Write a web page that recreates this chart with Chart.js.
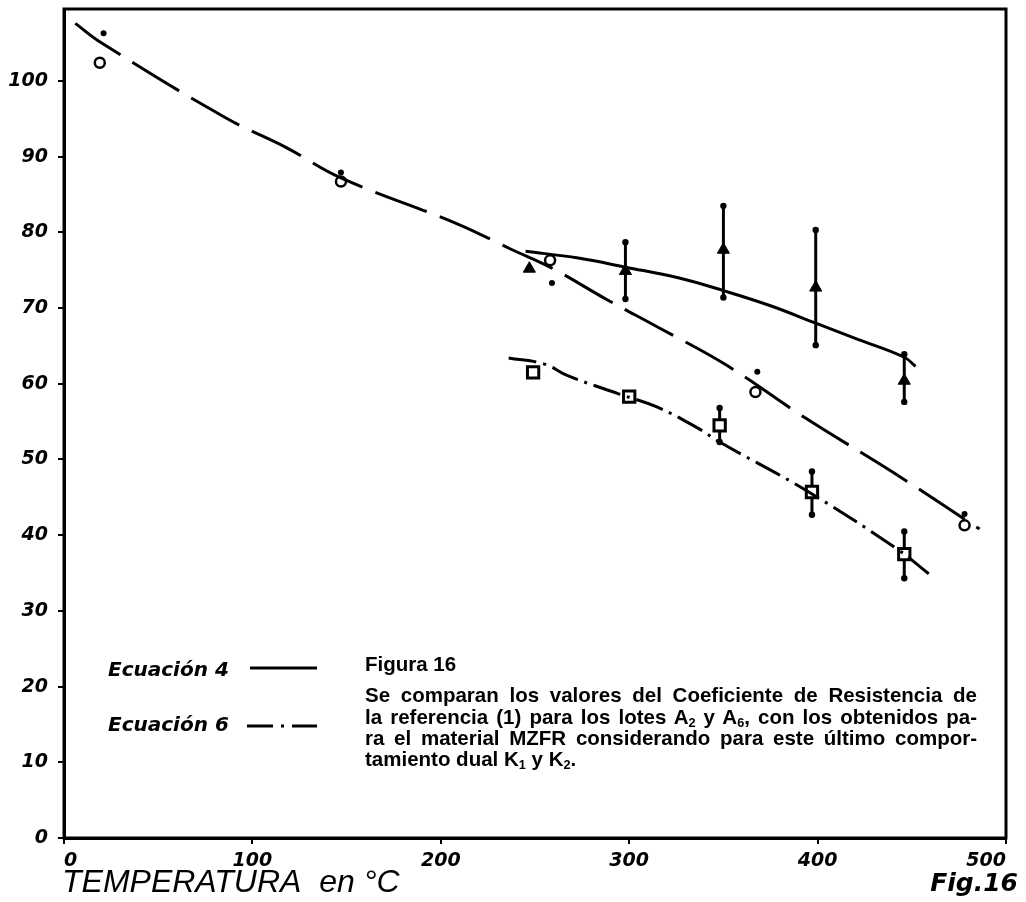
<!DOCTYPE html>
<html>
<head>
<meta charset="utf-8">
<script src="https://cdn.jsdelivr.net/npm/chart.js@4.4.0/dist/chart.umd.min.js"></script>
<style>
body { margin: 0; background: #fff; }
#wrap { position: relative; width: 1026px; height: 902px; }
#fig16 { position: absolute; left: 0; top: 0; }
.cap { position: absolute; left: 365px; width: 612px; font-family: 'Liberation Sans', Arial, sans-serif; font-weight: bold; font-size: 20.5px; letter-spacing: 0; line-height: 21px; color: #000; white-space: nowrap; }
.just { text-align: justify; text-align-last: justify; }
sub { font-size: 0.62em; line-height: 0; vertical-align: -0.25em; }
</style>
</head>
<body>
<div id="wrap">
  <canvas id="fig16" width="1026" height="902"></canvas>
  <div class="cap" style="top:653px">Figura 16</div>
  <div class="cap just" style="top:684px">Se comparan los valores del Coeficiente de Resistencia de</div>
  <div class="cap just" style="top:706px">la referencia (1) para los lotes A<sub>2</sub> y A<sub>6</sub>, con los obtenidos pa-</div>
  <div class="cap just" style="top:727px">ra el material MZFR considerando para este último compor-</div>
  <div class="cap" style="top:748px">tamiento dual K<sub>1</sub> y K<sub>2</sub>.</div>
</div>
<script>
// curva Ecuación 4 (continua)
var tempEc4 = [245, 273, 298, 326, 350, 375, 399, 421, 446, 452];
var valEc4 = [77.5, 76.6, 75.4, 74.0, 72.3, 70.3, 68.0, 65.9, 63.5, 62.3];

// curva de referencia (trazos largos)
var tempRef = [6, 20, 86, 118, 147, 209, 237, 258, 289, 315, 352, 394, 440, 486];
var valRef = [107.6, 105.0, 95.1, 91.2, 87.2, 81.1, 77.8, 75.4, 71.0, 67.5, 62.4, 55.4, 48.3, 40.8];

// curva Ecuación 6 (trazo y punto)
var tempEc6 = [236, 255, 267, 294, 315, 336, 348, 394, 442, 459];
var valEc6 = [63.4, 62.6, 61.1, 58.7, 56.9, 54.2, 52.3, 45.9, 38.2, 34.9];

// puntos experimentales
var tempTri = [247, 298, 350, 399, 446];
var valTri = [75.2, 74.9, 77.7, 72.7, 60.4];
var triLow = [null, 71.2, 71.4, 65.1, 57.6];
var triHigh = [null, 78.7, 83.5, 80.3, 63.9];

var tempSq = [249, 300, 348, 397, 446];
var valSq = [61.5, 58.3, 54.5, 45.7, 37.5];
var sqLow = [null, null, 52.3, 42.7, 34.3];
var sqHigh = [null, null, 56.8, 48.4, 40.5];

var tempCirc = [19, 147, 258, 367, 478];
var valCirc = [102.4, 86.7, 76.3, 58.9, 41.3];

var tempDot = [21, 147, 259, 368, 478];
var valDot = [106.3, 87.9, 73.3, 61.6, 42.8];

var xTicks = [0, 100, 200, 300, 400, 500];
var yTicks = [0, 10, 20, 30, 40, 50, 60, 70, 80, 90, 100];

function pts(xs, ys) {
    return xs.map(function (x, i) { return { x: x, y: ys[i] }; });
}

var tickFont = { family: 'DejaVu Sans', style: 'italic', weight: 'bold', size: 19 };

var errorBars = {
    id: 'errorBars',
    beforeDatasetsDraw: function (chart) {
        var ctx = chart.ctx;
        var xs = chart.scales.x, ys = chart.scales.y;
        function bars(temps, lows, highs) {
            temps.forEach(function (t, i) {
                if (lows[i] == null) return;
                var px = xs.getPixelForValue(t);
                var y1 = ys.getPixelForValue(lows[i]);
                var y2 = ys.getPixelForValue(highs[i]);
                ctx.save();
                ctx.strokeStyle = '#000';
                ctx.fillStyle = '#000';
                ctx.lineWidth = 3;
                ctx.beginPath();
                ctx.moveTo(px, y1);
                ctx.lineTo(px, y2);
                ctx.stroke();
                [y1, y2].forEach(function (py) {
                    ctx.beginPath();
                    ctx.arc(px, py, 3.2, 0, Math.PI * 2);
                    ctx.fill();
                });
                ctx.restore();
            });
        }
        bars(tempTri, triLow, triHigh);
        bars(tempSq, sqLow, sqHigh);
    },
    afterDraw: function (chart) {
        var ctx = chart.ctx;
        var a = chart.chartArea;
        ctx.save();
        // marco
        ctx.strokeStyle = '#000';
        ctx.lineWidth = 3;
        ctx.strokeRect(a.left, a.top, a.right - a.left, a.bottom - a.top);

        // leyenda
        ctx.fillStyle = '#000';
        ctx.font = 'italic bold 20px "DejaVu Sans"';
        ctx.textBaseline = 'alphabetic';
        ctx.fillText('Ecuación 4', 108, 676);
        ctx.fillText('Ecuación 6', 108, 731);
        ctx.beginPath();
        ctx.moveTo(250, 668);
        ctx.lineTo(317, 668);
        ctx.stroke();
        ctx.setLineDash([26, 8, 3, 8]);
        ctx.beginPath();
        ctx.moveTo(247, 726);
        ctx.lineTo(317, 726);
        ctx.stroke();
        ctx.setLineDash([]);

        // títulos
        ctx.font = 'italic 32px "Liberation Sans"';
        ctx.fillText('TEMPERATURA  en °C', 62, 892);
        ctx.font = 'italic bold 25px "DejaVu Sans"';
        ctx.textAlign = 'right';
        ctx.fillText('Fig.16', 1018, 891);
        ctx.restore();
    }
};

var ctx = document.getElementById('fig16').getContext('2d');
var chart = new Chart(ctx, {
    type: 'scatter',
    data: {
        datasets: [
            {
                label: 'Ecuación 4',
                data: pts(tempEc4, valEc4),
                showLine: true,
                borderColor: '#000',
                borderWidth: 3,
                pointRadius: 0,
                tension: 0.4
            },
            {
                label: 'Referencia',
                data: pts(tempRef, valRef),
                showLine: true,
                borderColor: '#000',
                borderWidth: 3,
                borderDash: [55, 14],
                pointRadius: 0,
                tension: 0.4
            },
            {
                label: 'Ecuación 6',
                data: pts(tempEc6, valEc6),
                showLine: true,
                borderColor: '#000',
                borderWidth: 3,
                borderDash: [28, 7, 3, 7],
                pointRadius: 0,
                tension: 0.4
            },
            {
                label: 'triangulos',
                data: pts(tempTri, valTri),
                pointStyle: 'triangle',
                pointRadius: 7,
                backgroundColor: '#000',
                borderColor: '#000',
                borderWidth: 1
            },
            {
                label: 'cuadrados',
                data: pts(tempSq, valSq),
                pointStyle: 'rect',
                pointRadius: 8,
                backgroundColor: '#fff',
                borderColor: '#000',
                borderWidth: 3
            },
            {
                label: 'circulos',
                data: pts(tempCirc, valCirc),
                pointStyle: 'circle',
                pointRadius: 5,
                backgroundColor: '#fff',
                borderColor: '#000',
                borderWidth: 2.5
            },
            {
                label: 'puntos',
                data: pts(tempDot, valDot),
                pointStyle: 'circle',
                pointRadius: 3,
                backgroundColor: '#000',
                borderColor: '#000',
                borderWidth: 0
            }
        ]
    },
    options: {
        responsive: false,
        animation: false,
        layout: { autoPadding: false, padding: { top: 9, right: 20, left: 0, bottom: 0 } },
        plugins: { legend: { display: false }, tooltip: { enabled: false } },
        scales: {
            x: {
                type: 'linear',
                min: 0,
                max: 500,
                afterBuildTicks: function (scale) {
                    scale.ticks = xTicks.map(function (v) { return { value: v }; });
                },
                afterFit: function (scale) { scale.height = 64; scale.paddingLeft = 0; scale.paddingRight = 0; },
                grid: { drawOnChartArea: false, drawTicks: true, tickLength: 6, color: '#000', lineWidth: 2 },
                border: { display: true, color: '#000', width: 3 },
                ticks: { color: '#000', font: tickFont, padding: 6, align: 'inner', maxRotation: 0 }
            },
            y: {
                min: 0,
                max: 109.5,
                afterBuildTicks: function (scale) {
                    scale.ticks = yTicks.map(function (v) { return { value: v }; });
                },
                afterFit: function (scale) { scale.width = 64; scale.paddingTop = 0; scale.paddingBottom = 0; },
                grid: { drawOnChartArea: false, drawTicks: true, tickLength: 6, color: '#000', lineWidth: 2 },
                border: { display: true, color: '#000', width: 3 },
                ticks: { color: '#000', font: tickFont, padding: 10 }
            }
        }
    },
    plugins: [errorBars]
});
</script>
</body>
</html>
